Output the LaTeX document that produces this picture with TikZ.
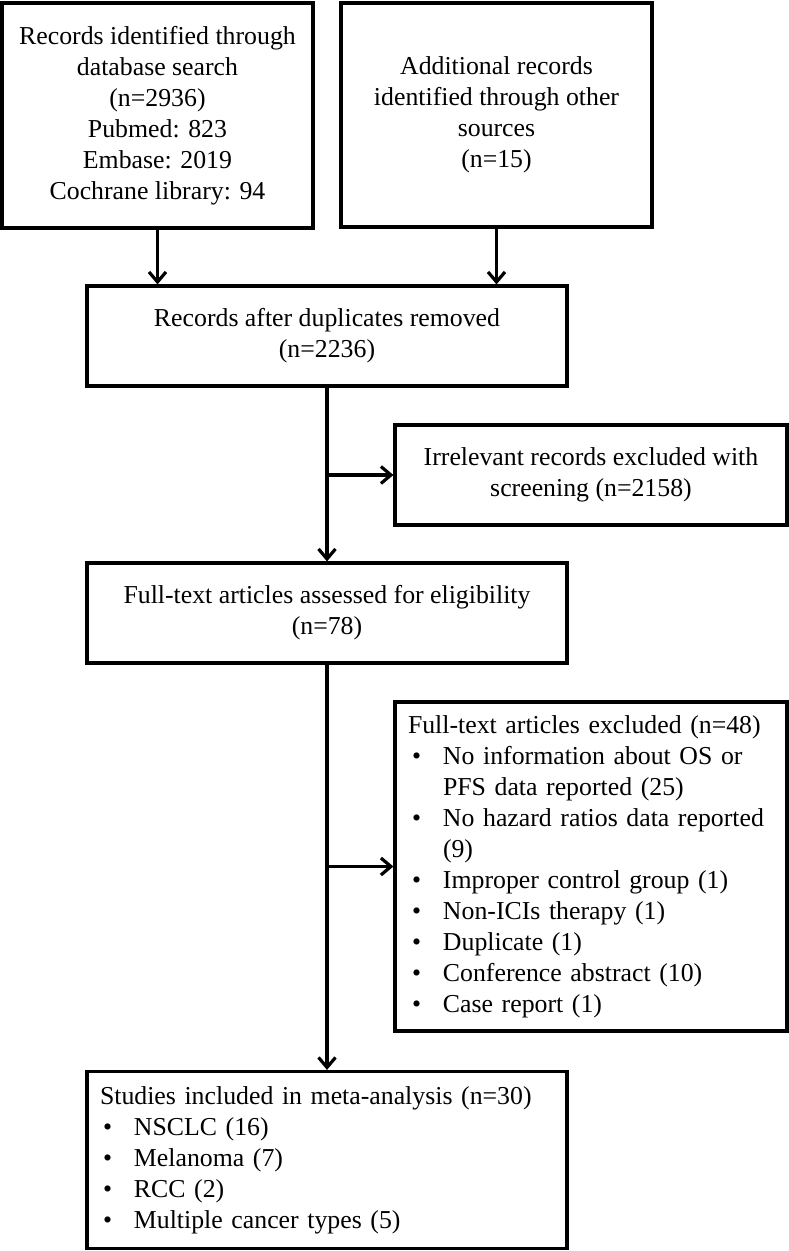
\documentclass[tikz,border=0pt]{standalone}
\usepackage{fontspec}
\setmainfont{Liberation Serif}
\usetikzlibrary{arrows.meta}
\newcommand\blt{\hspace*{4pt}\makebox[31pt][l]{\textbullet}}
\newcommand\ind{\hspace*{35pt}}
\tikzset{
  box/.style={draw, line width=3.2pt, rectangle, inner sep=0pt, align=center,
    font=\fontsize{25.8}{31}\selectfont},
  lbox/.style={box, inner xsep=13pt, align=left},
  arr/.style={-{Straight Barb[length=10pt,width=17pt]}, line width=3.2pt},
}
\begin{document}
\begin{tikzpicture}[x=1pt,y=-1pt]
\useasboundingbox (0,0) rectangle (789,1251);
\node[box, minimum width=311pt, minimum height=225pt] (b1) at (157.5,115.5)
  {Records identified through\\database search\\(n=2936)\\Pubmed: 823\\Embase: 2019\\Cochrane library: 94};
\node[box, minimum width=311pt, minimum height=224pt] (b2) at (496.5,115)
  {Additional records\\identified through other\\sources\\(n=15)};
\node[box, minimum width=480pt, minimum height=100pt] (b3) at (327,336)
  {Records after duplicates removed\\(n=2236)};
\node[box, minimum width=392pt, minimum height=100pt] (b4) at (591,475)
  {Irrelevant records excluded with\\screening (n=2158)};
\node[box, minimum width=480pt, minimum height=100pt] (b5) at (327,613)
  {Full-text articles assessed for eligibility\\(n=78)};
\node[lbox, text width=366pt, minimum height=329pt] (b6) at (591,866.5)
  {Full-text articles excluded (n=48)\\
   \blt No information about OS or\\
   \ind PFS data reported (25)\\
   \blt No hazard ratios data reported\\
   \ind (9)\\
   \blt Improper control group (1)\\
   \blt Non-ICIs therapy (1)\\
   \blt Duplicate (1)\\
   \blt Conference abstract (10)\\
   \blt Case report (1)};
\node[lbox, text width=454pt, minimum height=177pt] (b7) at (327,1160)
  {Studies included in meta-analysis (n=30)\\
   \hspace*{-1pt}\blt NSCLC (16)\\
   \hspace*{-1pt}\blt Melanoma (7)\\
   \hspace*{-1pt}\blt RCC (2)\\
   \hspace*{-1pt}\blt Multiple cancer types (5)};
\draw[arr] (b1.south) -- (b1.south |- b3.north);
\draw[arr] (b2.south) -- (b2.south |- b3.north);
\draw[arr] (b3.south) -- (b5.north);
\draw[arr] (b3.south |- b4.west) -- (b4.west);
\draw[arr] (b5.south) -- (b7.north);
\draw[arr] (b5.south |- b6.west) -- (b6.west);
\end{tikzpicture}
\end{document}
